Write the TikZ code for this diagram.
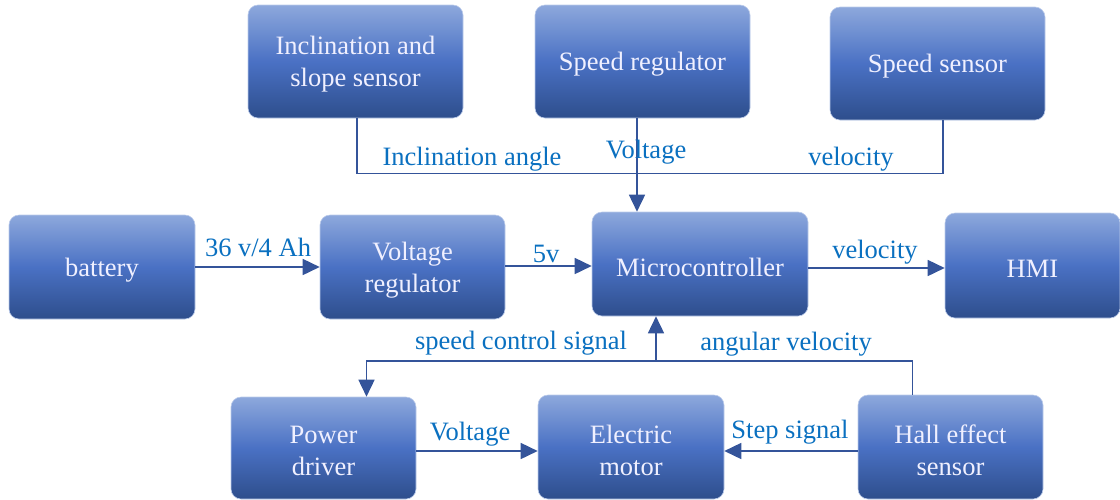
\documentclass[tikz,border=0pt]{standalone}
\usepackage{fontspec}
\setmainfont{Liberation Serif}
\usetikzlibrary{arrows.meta,calc}
\definecolor{boxtop}{HTML}{8DA8DC}
\definecolor{boxmid}{HTML}{4A71C4}
\definecolor{boxbot}{HTML}{2E4E8C}
\definecolor{linec}{HTML}{34549A}
\definecolor{labc}{HTML}{0A70C0}
\tikzset{
  blk/.style={rounded corners=10pt, top color=boxtop, bottom color=boxbot, middle color=boxmid,
    draw=boxtop!60!white, line width=0.6pt, inner sep=0pt},
  btxt/.style={text=white!94!blue, align=center, font=\fontsize{26.5}{32}\selectfont, inner sep=0pt},
  conn/.style={draw=linec, line width=1.6pt},
  arr/.style={conn, -{Triangle[length=17pt,width=16pt]}},
  lab/.style={text=labc, font=\fontsize{26.5}{31}\selectfont, inner sep=0pt}
}
\begin{document}
\begin{tikzpicture}[x=1pt,y=-1pt]
\useasboundingbox (0,0) rectangle (1120,499);
% boxes
\node[blk, minimum width=215pt, minimum height=113pt] (incl) at (355.5,61.5) {};
\node[blk, minimum width=215pt, minimum height=113pt] (sreg) at (642.5,61.5) {};
\node[blk, minimum width=215pt, minimum height=113pt] (ssen) at (937.5,63.5) {};
\node[blk, minimum width=186pt, minimum height=104pt] (batt) at (102,267) {};
\node[blk, minimum width=185pt, minimum height=104pt] (vreg) at (412.5,267) {};
\node[blk, minimum width=216pt, minimum height=104pt] (mc) at (700,264) {};
\node[blk, minimum width=175pt, minimum height=105pt] (hmi) at (1032.5,265.5) {};
\node[blk, minimum width=185pt, minimum height=102pt] (pd) at (323.5,448) {};
\node[blk, minimum width=186pt, minimum height=104pt] (em) at (631,447) {};
\node[blk, minimum width=185pt, minimum height=104pt] (hall) at (950.5,447) {};
% box texts
\node[btxt] (t1) at ([yshift=-3pt]incl.center) {Inclination and\\slope sensor};
\node[btxt] (t2) at ([yshift=-3pt]sreg.center) {Speed regulator};
\node[btxt] (t3) at ([yshift=-3pt]ssen.center) {Speed sensor};
\node[btxt] (t4) at ([yshift=-3pt]batt.center) {battery};
\node[btxt] (t5) at ([yshift=-3pt]vreg.center) {Voltage\\regulator};
\node[btxt] (t6) at ([yshift=-3pt]mc.center) {Microcontroller};
\node[btxt] (t7) at ([yshift=-3pt]hmi.center) {HMI};
\node[btxt] (t8) at ([yshift=-3pt]pd.center) {Power\\driver};
\node[btxt] (t9) at ([yshift=-3pt]em.center) {Electric\\motor};
\node[btxt] (t10) at ([yshift=-3pt]hall.center) {Hall effect\\sensor};
% helper levels
\coordinate (ya) at (0,267);
\coordinate (yb) at (0,266);
\coordinate (yc) at (0,268);
\coordinate (yd) at (0,451);
% top bus
\draw[conn] ([xshift=1.5pt]incl.south) -- ++(0,55) -| ([xshift=5.5pt]ssen.south);
\draw[arr] ([xshift=-5.5pt]sreg.south) -- ([xshift=-5.5pt]sreg.south |- mc.north);
% middle row
\draw[arr] (batt.east |- ya) -- (vreg.west |- ya);
\draw[arr] (vreg.east |- yb) -- (mc.west |- yb);
\draw[arr] (mc.east |- yc) -- (hmi.west |- yc);
% feedback bus
\coordinate (hallup) at ([xshift=-38pt]hall.north);
\coordinate (bus) at ($(hallup)+(0,-34)$);
\coordinate (pdtop) at ([xshift=43pt]pd.north);
\coordinate (jn) at (656,0);
\draw[arr] (hallup) -- (bus) -| (pdtop);
\draw[arr] (jn |- bus) -- (jn |- mc.south);
% bottom row
\draw[arr] (pd.east |- yd) -- (em.west |- yd);
\draw[arr] (hall.west |- yd) -- (em.east |- yd);
% labels
\node[lab] (l1) at (472,159) {Inclination angle};
\node[lab] (l2) at (646,152) {Voltage};
\node[lab] (l3) at (851,159) {velocity};
\node[lab] (l4) at (258,247) {36 v/4 Ah};
\node[lab] (l5) at (546,254) {5v};
\node[lab] (l6) at (875,252) {velocity};
\node[lab] (l7) at (521,343) {speed control signal};
\node[lab] (l8) at (786,344) {angular velocity};
\node[lab] (l9) at (470,434) {Voltage};
\node[lab] (l10) at (790,432) {Step signal};
\end{tikzpicture}
\end{document}
